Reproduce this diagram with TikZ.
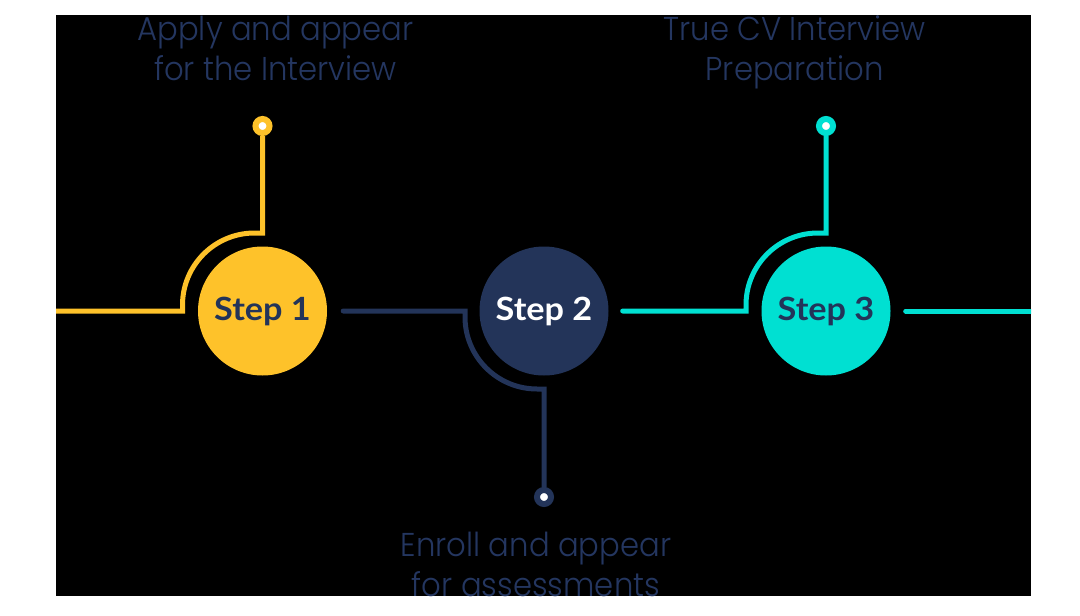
\documentclass[tikz,border=0pt]{standalone}
\usepackage{fontspec}
\setmainfont{Lato}
\newfontfamily\lblfont{Poppins Light}[FakeStretch=0.93]
\newfontfamily\stepfont{Lato Bold}[FakeStretch=1.07]
\usetikzlibrary{calc}
\definecolor{cyel}{HTML}{FEC22A}
\definecolor{cnavy}{HTML}{233459}
\definecolor{ccyan}{HTML}{00E0D2}
\definecolor{ctext}{HTML}{243660}
\begin{document}
\begin{tikzpicture}[x=1pt,y=-1pt,
  stepnode/.style={circle, minimum size=129pt, inner sep=0pt, font=\stepfont\fontsize{32}{38}\selectfont},
  enddot/.style={circle, fill=white, line width=6pt, minimum size=14pt, inner sep=0pt},
  link/.style={line width=5pt},
  lbl/.style={anchor=base, text=ctext, inner sep=0pt, font=\lblfont\fontsize{33}{40}\selectfont}]
\useasboundingbox (0,0) rectangle (1080,616);
\fill[white] (0,0) rectangle (1080,616);
\fill[black] (56,15) rectangle (1031,596);
\begin{scope}
\clip (56,15) rectangle (1031,596);
% steps
\node[stepnode, fill=cyel, text=cnavy] (s1) at (262.5,311) {Step 1};
\node[stepnode, fill=cnavy, text=white] (s2) at (544,311) {Step 2};
\node[stepnode, fill=ccyan, text=cnavy] (s3) at (826,311) {Step 3};
% end dots
\node[enddot, draw=cyel] (d1) at (262.5,126) {};
\node[enddot, draw=cnavy] (d2) at (544,497) {};
\node[enddot, draw=ccyan] (d3) at (826,126) {};
% free ends
\coordinate (l1) at (40,311);
\coordinate (r3) at (1045,311);
% connectors
\draw[link, cyel] (l1) -- ($(s1)+(-80,0)$) -- ++(0,-6)
  arc[start angle=180, end angle=270, radius=72] -- ($(s1)+(0,-78)$) -- (d1);
\draw[link, cnavy, line cap=round] ($(s1.east)+(16,0)$) -- ($(s2)+(-79,0)$) -- ++(0,6)
  arc[start angle=180, end angle=90, radius=72] -- ($(s2)+(0,78)$) -- (d2);
\draw[link, ccyan, line cap=round] ($(s2.east)+(14,0)$) -- ($(s3)+(-80,0)$) -- ++(0,-6)
  arc[start angle=180, end angle=270, radius=72] -- ($(s3)+(0,-78)$) -- (d3);
\draw[link, ccyan, line cap=round] ($(s3.east)+(15,0)$) -- (r3);
% labels
\node[lbl] (t1a) at (275.5,40) {Apply and appear};
\node[lbl] (t1b) at (275.5,80) {for the Interview};
\node[lbl] (t3a) at (794.5,40) {True CV Interview};
\node[lbl] (t3b) at (794.5,80) {Preparation};
\node[lbl] (t2a) at (536,556) {Enroll and appear};
\node[lbl] (t2b) at (536,596) {for assessments};
\end{scope}
\end{tikzpicture}
\end{document}
